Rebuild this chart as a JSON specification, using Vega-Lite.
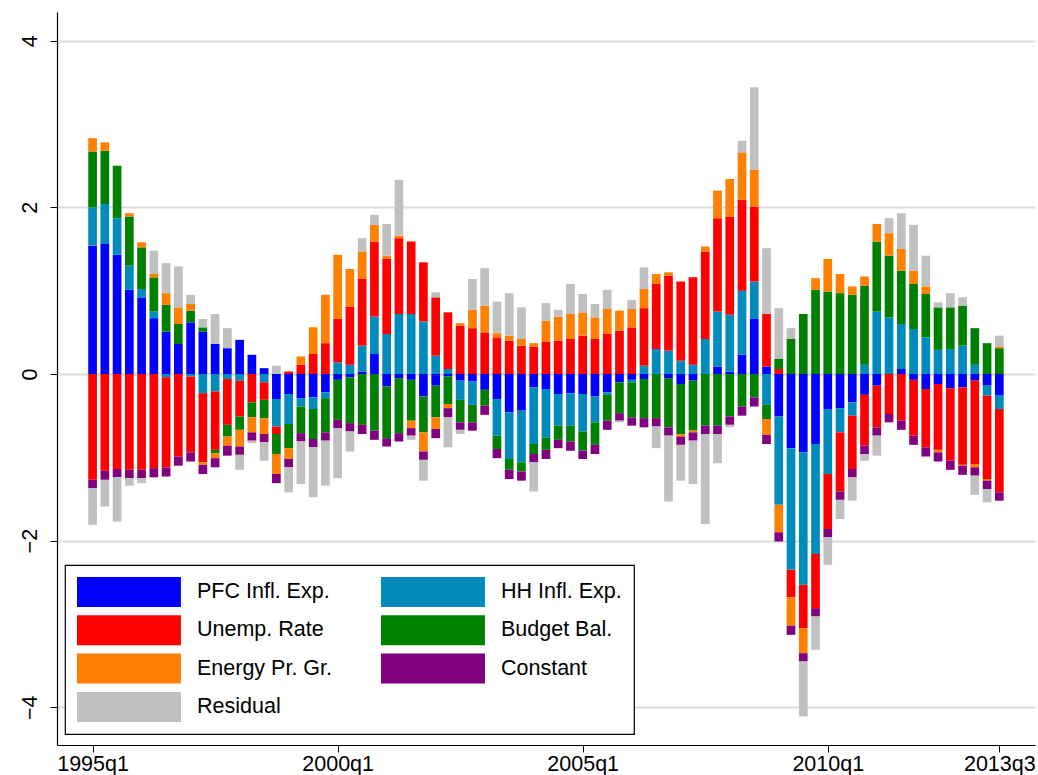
{
  "$schema": "https://vega.github.io/schema/vega-lite/v6.json",
  "width": 978,
  "height": 733,
  "autosize": {"type": "none"},
  "padding": {"left": 57, "top": 12, "right": 3, "bottom": 30},
  "background": "white",
  "datasets": {
    "comp": [
      {"key": "PFC", "label": "PFC Infl. Exp.", "k": 1},
      {"key": "HH", "label": "HH Infl. Exp.", "k": 2},
      {"key": "Unemp", "label": "Unemp. Rate", "k": 3},
      {"key": "Budget", "label": "Budget Bal.", "k": 4},
      {"key": "Energy", "label": "Energy Pr. Gr.", "k": 5},
      {"key": "Constant", "label": "Constant", "k": 6},
      {"key": "Residual", "label": "Residual", "k": 7}
    ]
  },
  "data": {
    "values": [
      {"t": 0, "q": "1995q1", "PFC": 1.54, "HH": 0.46, "Unemp": -1.27, "Budget": 0.67, "Energy": 0.16, "Constant": -0.10, "Residual": -0.44},
      {"t": 1, "q": "1995q2", "PFC": 1.56, "HH": 0.48, "Unemp": -1.16, "Budget": 0.64, "Energy": 0.10, "Constant": -0.11, "Residual": -0.32},
      {"t": 2, "q": "1995q3", "PFC": 1.43, "HH": 0.44, "Unemp": -1.14, "Budget": 0.63, "Energy": 0.0, "Constant": -0.10, "Residual": -0.53},
      {"t": 3, "q": "1995q4", "PFC": 1.01, "HH": 0.29, "Unemp": -1.15, "Budget": 0.59, "Energy": 0.04, "Constant": -0.10, "Residual": -0.09},
      {"t": 4, "q": "1996q1", "PFC": 0.92, "HH": 0.10, "Unemp": -1.15, "Budget": 0.50, "Energy": 0.06, "Constant": -0.10, "Residual": -0.06},
      {"t": 5, "q": "1996q2", "PFC": 0.67, "HH": 0.08, "Unemp": -1.13, "Budget": 0.41, "Energy": 0.04, "Constant": -0.11, "Residual": 0.28},
      {"t": 6, "q": "1996q3", "PFC": 0.51, "HH": -0.04, "Unemp": -1.08, "Budget": 0.32, "Energy": 0.14, "Constant": -0.11, "Residual": 0.36},
      {"t": 7, "q": "1996q4", "PFC": 0.36, "HH": 0.0, "Unemp": -0.99, "Budget": 0.24, "Energy": 0.20, "Constant": -0.11, "Residual": 0.49},
      {"t": 8, "q": "1997q1", "PFC": 0.62, "HH": -0.03, "Unemp": -0.91, "Budget": 0.14, "Energy": 0.08, "Constant": -0.11, "Residual": 0.11},
      {"t": 9, "q": "1997q2", "PFC": 0.51, "HH": -0.23, "Unemp": -0.83, "Budget": 0.05, "Energy": -0.03, "Constant": -0.11, "Residual": 0.10},
      {"t": 10, "q": "1997q3", "PFC": 0.36, "HH": -0.21, "Unemp": -0.70, "Budget": -0.04, "Energy": -0.06, "Constant": -0.11, "Residual": 0.36},
      {"t": 11, "q": "1997q4", "PFC": 0.31, "HH": -0.06, "Unemp": -0.55, "Budget": -0.14, "Energy": -0.11, "Constant": -0.12, "Residual": 0.24},
      {"t": 12, "q": "1998q1", "PFC": 0.41, "HH": -0.08, "Unemp": -0.43, "Budget": -0.16, "Energy": -0.20, "Constant": -0.10, "Residual": -0.18},
      {"t": 13, "q": "1998q2", "PFC": 0.23, "HH": 0.0, "Unemp": -0.34, "Budget": -0.18, "Energy": -0.18, "Constant": -0.10, "Residual": -0.03},
      {"t": 14, "q": "1998q3", "PFC": 0.07, "HH": -0.10, "Unemp": -0.21, "Budget": -0.22, "Energy": -0.19, "Constant": -0.10, "Residual": -0.22},
      {"t": 15, "q": "1998q4", "PFC": -0.30, "HH": -0.33, "Unemp": -0.09, "Budget": -0.24, "Energy": -0.24, "Constant": -0.11, "Residual": 0.10},
      {"t": 16, "q": "1999q1", "PFC": -0.24, "HH": -0.36, "Unemp": 0.03, "Budget": -0.29, "Energy": -0.13, "Constant": -0.10, "Residual": -0.30},
      {"t": 17, "q": "1999q2", "PFC": -0.29, "HH": -0.10, "Unemp": 0.11, "Budget": -0.32, "Energy": 0.10, "Constant": -0.10, "Residual": -0.51},
      {"t": 18, "q": "1999q3", "PFC": -0.28, "HH": -0.14, "Unemp": 0.24, "Budget": -0.36, "Energy": 0.32, "Constant": -0.10, "Residual": -0.60},
      {"t": 19, "q": "1999q4", "PFC": -0.22, "HH": -0.07, "Unemp": 0.37, "Budget": -0.41, "Energy": 0.58, "Constant": -0.10, "Residual": -0.54},
      {"t": 20, "q": "2000q1", "PFC": -0.07, "HH": 0.14, "Unemp": 0.52, "Budget": -0.48, "Energy": 0.77, "Constant": -0.10, "Residual": -0.60},
      {"t": 21, "q": "2000q2", "PFC": -0.04, "HH": 0.11, "Unemp": 0.70, "Budget": -0.55, "Energy": 0.45, "Constant": -0.10, "Residual": -0.24},
      {"t": 22, "q": "2000q3", "PFC": 0.03, "HH": 0.31, "Unemp": 0.80, "Budget": -0.61, "Energy": 0.33, "Constant": -0.11, "Residual": 0.16},
      {"t": 23, "q": "2000q4", "PFC": 0.24, "HH": 0.45, "Unemp": 0.90, "Budget": -0.68, "Energy": 0.20, "Constant": -0.11, "Residual": 0.12},
      {"t": 24, "q": "2001q1", "PFC": -0.15, "HH": 0.48, "Unemp": 0.90, "Budget": -0.62, "Energy": 0.04, "Constant": -0.10, "Residual": 0.38},
      {"t": 25, "q": "2001q2", "PFC": -0.05, "HH": 0.72, "Unemp": 0.91, "Budget": -0.66, "Energy": 0.03, "Constant": -0.10, "Residual": 0.67},
      {"t": 26, "q": "2001q3", "PFC": -0.07, "HH": 0.72, "Unemp": 0.87, "Budget": -0.49, "Energy": -0.09, "Constant": -0.09, "Residual": -0.05},
      {"t": 27, "q": "2001q4", "PFC": -0.27, "HH": 0.63, "Unemp": 0.71, "Budget": -0.43, "Energy": -0.23, "Constant": -0.10, "Residual": -0.25},
      {"t": 28, "q": "2002q1", "PFC": -0.14, "HH": 0.22, "Unemp": 0.70, "Budget": -0.38, "Energy": -0.14, "Constant": -0.11, "Residual": 0.06},
      {"t": 29, "q": "2002q2", "PFC": -0.03, "HH": 0.06, "Unemp": 0.68, "Budget": -0.33, "Energy": -0.05, "Constant": -0.11, "Residual": -0.36},
      {"t": 30, "q": "2002q3", "PFC": -0.08, "HH": -0.23, "Unemp": 0.58, "Budget": -0.27, "Energy": 0.03, "Constant": -0.09, "Residual": -0.05},
      {"t": 31, "q": "2002q4", "PFC": -0.09, "HH": -0.28, "Unemp": 0.55, "Budget": -0.21, "Energy": 0.22, "Constant": -0.10, "Residual": 0.37},
      {"t": 32, "q": "2003q1", "PFC": -0.19, "HH": 0.0, "Unemp": 0.50, "Budget": -0.19, "Energy": 0.32, "Constant": -0.11, "Residual": 0.45},
      {"t": 33, "q": "2003q2", "PFC": -0.30, "HH": -0.44, "Unemp": 0.44, "Budget": -0.16, "Energy": 0.05, "Constant": -0.11, "Residual": 0.38},
      {"t": 34, "q": "2003q3", "PFC": -0.46, "HH": -0.56, "Unemp": 0.40, "Budget": -0.13, "Energy": 0.06, "Constant": -0.11, "Residual": 0.51},
      {"t": 35, "q": "2003q4", "PFC": -0.44, "HH": -0.62, "Unemp": 0.34, "Budget": -0.11, "Energy": 0.08, "Constant": -0.11, "Residual": 0.38},
      {"t": 36, "q": "2004q1", "PFC": -0.16, "HH": -0.68, "Unemp": 0.33, "Budget": -0.12, "Energy": 0.04, "Constant": -0.10, "Residual": -0.35},
      {"t": 37, "q": "2004q2", "PFC": -0.18, "HH": -0.58, "Unemp": 0.39, "Budget": -0.15, "Energy": 0.25, "Constant": -0.11, "Residual": 0.21},
      {"t": 38, "q": "2004q3", "PFC": -0.24, "HH": -0.38, "Unemp": 0.40, "Budget": -0.17, "Energy": 0.29, "Constant": -0.10, "Residual": 0.08},
      {"t": 39, "q": "2004q4", "PFC": -0.23, "HH": -0.39, "Unemp": 0.42, "Budget": -0.19, "Energy": 0.30, "Constant": -0.11, "Residual": 0.36},
      {"t": 40, "q": "2005q1", "PFC": -0.24, "HH": -0.45, "Unemp": 0.46, "Budget": -0.23, "Energy": 0.28, "Constant": -0.10, "Residual": 0.22},
      {"t": 41, "q": "2005q2", "PFC": -0.27, "HH": -0.31, "Unemp": 0.42, "Budget": -0.27, "Energy": 0.26, "Constant": -0.11, "Residual": 0.16},
      {"t": 42, "q": "2005q3", "PFC": -0.22, "HH": -0.03, "Unemp": 0.48, "Budget": -0.31, "Energy": 0.30, "Constant": -0.11, "Residual": 0.23},
      {"t": 43, "q": "2005q4", "PFC": -0.10, "HH": 0.0, "Unemp": 0.52, "Budget": -0.37, "Energy": 0.24, "Constant": -0.09, "Residual": -0.02},
      {"t": 44, "q": "2006q1", "PFC": -0.07, "HH": -0.03, "Unemp": 0.56, "Budget": -0.42, "Energy": 0.22, "Constant": -0.10, "Residual": 0.11},
      {"t": 45, "q": "2006q2", "PFC": -0.06, "HH": 0.10, "Unemp": 0.69, "Budget": -0.47, "Energy": 0.23, "Constant": -0.11, "Residual": 0.26},
      {"t": 46, "q": "2006q3", "PFC": 0.0, "HH": 0.30, "Unemp": 0.78, "Budget": -0.53, "Energy": 0.12, "Constant": -0.10, "Residual": -0.26},
      {"t": 47, "q": "2006q4", "PFC": -0.05, "HH": 0.28, "Unemp": 0.90, "Budget": -0.59, "Energy": 0.04, "Constant": -0.10, "Residual": -0.79},
      {"t": 48, "q": "2007q1", "PFC": -0.12, "HH": 0.16, "Unemp": 0.95, "Budget": -0.60, "Energy": -0.03, "Constant": -0.10, "Residual": -0.43},
      {"t": 49, "q": "2007q2", "PFC": -0.08, "HH": 0.11, "Unemp": 1.05, "Budget": -0.60, "Energy": -0.02, "Constant": -0.10, "Residual": -0.52},
      {"t": 50, "q": "2007q3", "PFC": 0.0, "HH": 0.42, "Unemp": 1.05, "Budget": -0.62, "Energy": 0.06, "Constant": -0.10, "Residual": -1.08},
      {"t": 51, "q": "2007q4", "PFC": 0.09, "HH": 0.66, "Unemp": 1.12, "Budget": -0.62, "Energy": 0.33, "Constant": -0.10, "Residual": -0.35},
      {"t": 52, "q": "2008q1", "PFC": 0.03, "HH": 0.68, "Unemp": 1.18, "Budget": -0.51, "Energy": 0.45, "Constant": -0.10, "Residual": -0.03},
      {"t": 53, "q": "2008q2", "PFC": 0.23, "HH": 0.77, "Unemp": 1.09, "Budget": -0.39, "Energy": 0.57, "Constant": -0.11, "Residual": 0.14},
      {"t": 54, "q": "2008q3", "PFC": 0.66, "HH": 0.45, "Unemp": 0.90, "Budget": -0.28, "Energy": 0.44, "Constant": -0.11, "Residual": 0.99},
      {"t": 55, "q": "2008q4", "PFC": 0.09, "HH": -0.37, "Unemp": 0.63, "Budget": -0.17, "Energy": -0.19, "Constant": -0.11, "Residual": 0.79},
      {"t": 56, "q": "2009q1", "PFC": -0.51, "HH": -1.06, "Unemp": 0.06, "Budget": 0.12, "Energy": -0.33, "Constant": -0.11, "Residual": 0.61},
      {"t": 57, "q": "2009q2", "PFC": -0.89, "HH": -1.46, "Unemp": -0.33, "Budget": 0.42, "Energy": -0.34, "Constant": -0.11, "Residual": 0.13},
      {"t": 58, "q": "2009q3", "PFC": -0.94, "HH": -1.59, "Unemp": -0.52, "Budget": 0.72, "Energy": -0.30, "Constant": -0.10, "Residual": -0.66},
      {"t": 59, "q": "2009q4", "PFC": -0.84, "HH": -1.32, "Unemp": -0.65, "Budget": 1.01, "Energy": 0.14, "Constant": -0.10, "Residual": -0.40},
      {"t": 60, "q": "2010q1", "PFC": -0.42, "HH": -0.78, "Unemp": -0.66, "Budget": 0.99, "Energy": 0.39, "Constant": -0.10, "Residual": -0.33},
      {"t": 61, "q": "2010q2", "PFC": -0.41, "HH": -0.29, "Unemp": -0.71, "Budget": 0.97, "Energy": 0.23, "Constant": -0.10, "Residual": -0.23},
      {"t": 62, "q": "2010q3", "PFC": -0.34, "HH": -0.16, "Unemp": -0.64, "Budget": 0.95, "Energy": 0.10, "Constant": -0.10, "Residual": -0.28},
      {"t": 63, "q": "2010q4", "PFC": -0.25, "HH": 0.11, "Unemp": -0.61, "Budget": 0.95, "Energy": 0.11, "Constant": -0.10, "Residual": -0.08},
      {"t": 64, "q": "2011q1", "PFC": -0.14, "HH": 0.75, "Unemp": -0.50, "Budget": 0.84, "Energy": 0.21, "Constant": -0.10, "Residual": -0.24},
      {"t": 65, "q": "2011q2", "PFC": 0.0, "HH": 0.68, "Unemp": -0.48, "Budget": 0.74, "Energy": 0.27, "Constant": -0.10, "Residual": 0.18},
      {"t": 66, "q": "2011q3", "PFC": 0.06, "HH": 0.54, "Unemp": -0.56, "Budget": 0.64, "Energy": 0.26, "Constant": -0.11, "Residual": 0.43},
      {"t": 67, "q": "2011q4", "PFC": -0.07, "HH": 0.54, "Unemp": -0.67, "Budget": 0.54, "Energy": 0.16, "Constant": -0.11, "Residual": 0.55},
      {"t": 68, "q": "2012q1", "PFC": -0.18, "HH": 0.44, "Unemp": -0.70, "Budget": 0.52, "Energy": 0.09, "Constant": -0.11, "Residual": 0.37},
      {"t": 69, "q": "2012q2", "PFC": -0.12, "HH": 0.29, "Unemp": -0.79, "Budget": 0.51, "Energy": -0.03, "Constant": -0.11, "Residual": 0.06},
      {"t": 70, "q": "2012q3", "PFC": -0.17, "HH": 0.30, "Unemp": -0.87, "Budget": 0.50, "Energy": 0.0, "Constant": -0.11, "Residual": 0.17},
      {"t": 71, "q": "2012q4", "PFC": -0.16, "HH": 0.34, "Unemp": -0.93, "Budget": 0.48, "Energy": -0.01, "Constant": -0.11, "Residual": 0.10},
      {"t": 72, "q": "2013q1", "PFC": -0.08, "HH": 0.11, "Unemp": -1.00, "Budget": 0.44, "Energy": -0.04, "Constant": -0.10, "Residual": -0.23},
      {"t": 73, "q": "2013q2", "PFC": -0.14, "HH": -0.12, "Unemp": -1.00, "Budget": 0.37, "Energy": -0.02, "Constant": -0.10, "Residual": -0.16},
      {"t": 74, "q": "2013q3", "PFC": -0.26, "HH": -0.16, "Unemp": -1.00, "Budget": 0.31, "Energy": 0.02, "Constant": -0.10, "Residual": 0.13}
    ]
  },
  "transform": [
    {"fold": ["PFC", "HH", "Unemp", "Budget", "Energy", "Constant", "Residual"], "as": ["key", "v"]},
    {"lookup": "key", "from": {"data": {"name": "comp"}, "key": "key", "fields": ["label", "k"]}}
  ],
  "mark": {"type": "bar", "width": 8.7, "orient": "vertical"},
  "encoding": {
    "x": {
      "field": "t",
      "type": "quantitative",
      "title": null,
      "scale": {"domain": [-2.496, 76.504], "nice": false, "zero": false},
      "axis": {
        "values": [0, 20, 40, 60, 74],
        "labelExpr": "datum.value == 0 ? '1995q1' : datum.value == 20 ? '2000q1' : datum.value == 40 ? '2005q1' : datum.value == 60 ? '2010q1' : '2013q3'",
        "labelAngle": 0,
        "labelFont": "Liberation Sans",
        "labelFontSize": 21.5,
        "labelColor": "black",
        "labelPadding": 1,
        "labelFlush": false,
        "labelOverlap": false,
        "tickSize": 7,
        "tickColor": "black",
        "domainColor": "black",
        "domainWidth": 1.2,
        "grid": false
      }
    },
    "y": {
      "field": "v",
      "type": "quantitative",
      "stack": "zero",
      "title": null,
      "scale": {"domain": [-4.452, 4.344], "nice": false, "zero": false},
      "axis": {
        "values": [-4, -2, 0, 2, 4],
        "labelAngle": -90,
        "labelAlign": "center",
        "labelBaseline": "bottom",
        "labelFont": "Liberation Sans",
        "labelFontSize": 21.5,
        "labelColor": "black",
        "labelPadding": 9,
        "tickSize": 7,
        "tickColor": "black",
        "domainColor": "black",
        "domainWidth": 1.2,
        "grid": true,
        "gridColor": "#DCDCDC",
        "gridWidth": 2
      }
    },
    "color": {
      "field": "label",
      "type": "nominal",
      "scale": {
        "domain": ["PFC Infl. Exp.", "HH Infl. Exp.", "Unemp. Rate", "Budget Bal.", "Energy Pr. Gr.", "Constant", "Residual"],
        "range": ["#0000FF", "#008BBC", "#FF0000", "#008000", "#FF7F00", "#800080", "#C0C0C0"]
      },
      "legend": {
        "orient": "none",
        "legendX": 8,
        "legendY": 553,
        "direction": "horizontal",
        "columns": 2,
        "title": null,
        "symbolType": "M-1,-1H5.93V1H-1Z",
        "symbolSize": 900,
        "symbolStrokeWidth": 0,
        "symbolOpacity": 1,
        "labelFont": "Liberation Sans",
        "labelFontSize": 21.5,
        "labelColor": "black",
        "labelOffset": 90,
        "columnPadding": 48,
        "rowPadding": 8.3,
        "padding": 12,
        "strokeColor": "black",
        "fillColor": "white"
      }
    },
    "order": {"field": "k", "type": "quantitative"}
  },
  "config": {
    "view": {"stroke": null},
    "legend": {"strokeWidth": 1.2}
  }
}
